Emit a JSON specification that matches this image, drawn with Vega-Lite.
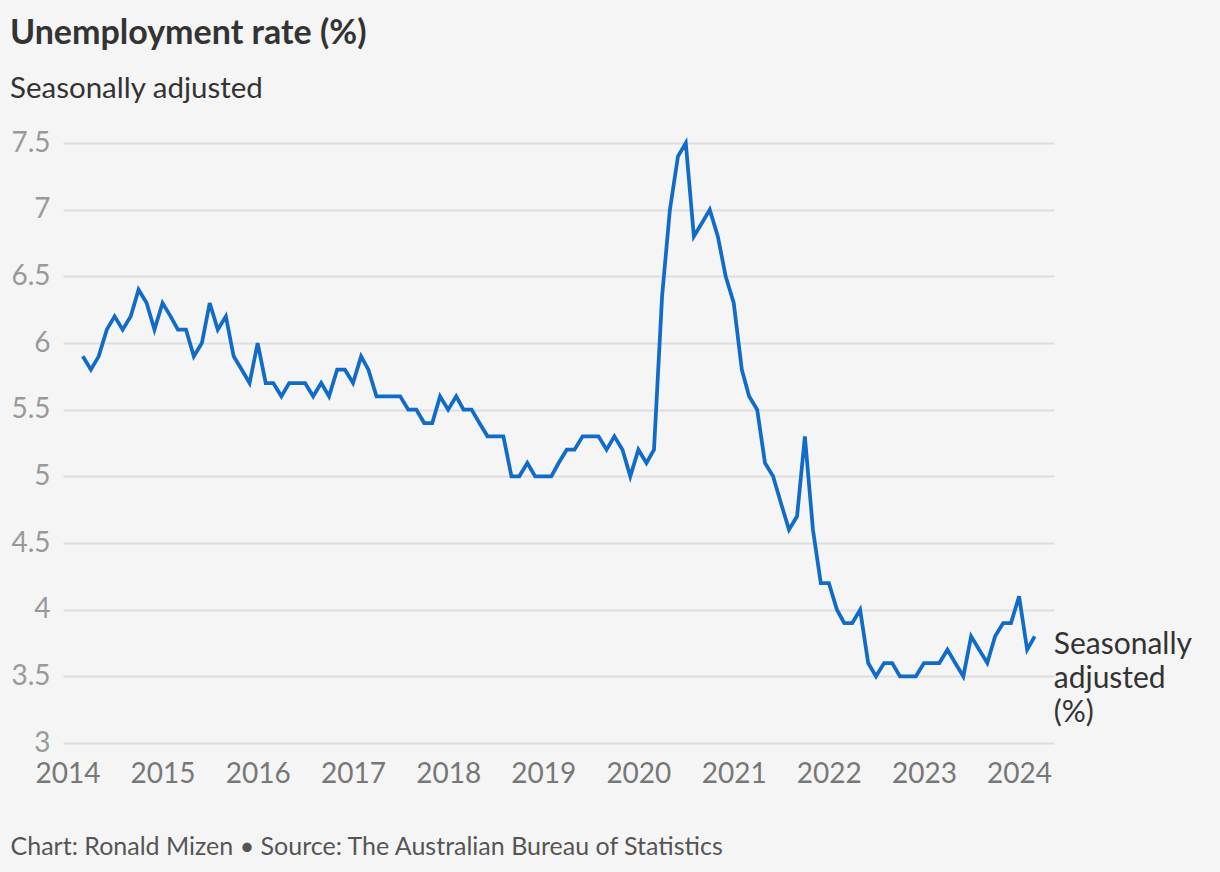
{
  "$schema": "https://vega.github.io/schema/vega-lite/v6.json",
  "width": 991,
  "height": 600,
  "autosize": {"type": "none"},
  "padding": {"left": 63, "top": 143, "right": 166, "bottom": 129},
  "background": "#f5f5f5",
  "config": {
    "view": {"stroke": null},
    "font": "Lato",
    "title": {"font": "Lato", "fontSize": 34, "fontWeight": "bold", "color": "#333333", "anchor": "start", "frame": "group", "dx": -53, "offset": 26, "subtitleFont": "Lato", "subtitleFontSize": 29.5, "subtitleColor": "#333333", "subtitlePadding": 24}
  },
  "title": {"text": "Unemployment rate (%)", "subtitle": "Seasonally adjusted"},
  "data": {"values": [
    {"date": "2014-03-01", "rate": 5.9}, {"date": "2014-04-01", "rate": 5.8}, {"date": "2014-05-01", "rate": 5.9}, {"date": "2014-06-01", "rate": 6.1}, {"date": "2014-07-01", "rate": 6.2}, {"date": "2014-08-01", "rate": 6.1}, {"date": "2014-09-01", "rate": 6.2}, {"date": "2014-10-01", "rate": 6.4}, {"date": "2014-11-01", "rate": 6.3}, {"date": "2014-12-01", "rate": 6.1},
    {"date": "2015-01-01", "rate": 6.3}, {"date": "2015-02-01", "rate": 6.2}, {"date": "2015-03-01", "rate": 6.1}, {"date": "2015-04-01", "rate": 6.1}, {"date": "2015-05-01", "rate": 5.9}, {"date": "2015-06-01", "rate": 6.0}, {"date": "2015-07-01", "rate": 6.3}, {"date": "2015-08-01", "rate": 6.1}, {"date": "2015-09-01", "rate": 6.2}, {"date": "2015-10-01", "rate": 5.9}, {"date": "2015-11-01", "rate": 5.8}, {"date": "2015-12-01", "rate": 5.7},
    {"date": "2016-01-01", "rate": 6.0}, {"date": "2016-02-01", "rate": 5.7}, {"date": "2016-03-01", "rate": 5.7}, {"date": "2016-04-01", "rate": 5.6}, {"date": "2016-05-01", "rate": 5.7}, {"date": "2016-06-01", "rate": 5.7}, {"date": "2016-07-01", "rate": 5.7}, {"date": "2016-08-01", "rate": 5.6}, {"date": "2016-09-01", "rate": 5.7}, {"date": "2016-10-01", "rate": 5.6}, {"date": "2016-11-01", "rate": 5.8}, {"date": "2016-12-01", "rate": 5.8},
    {"date": "2017-01-01", "rate": 5.7}, {"date": "2017-02-01", "rate": 5.9}, {"date": "2017-03-01", "rate": 5.8}, {"date": "2017-04-01", "rate": 5.6}, {"date": "2017-05-01", "rate": 5.6}, {"date": "2017-06-01", "rate": 5.6}, {"date": "2017-07-01", "rate": 5.6}, {"date": "2017-08-01", "rate": 5.5}, {"date": "2017-09-01", "rate": 5.5}, {"date": "2017-10-01", "rate": 5.4}, {"date": "2017-11-01", "rate": 5.4}, {"date": "2017-12-01", "rate": 5.6},
    {"date": "2018-01-01", "rate": 5.5}, {"date": "2018-02-01", "rate": 5.6}, {"date": "2018-03-01", "rate": 5.5}, {"date": "2018-04-01", "rate": 5.5}, {"date": "2018-05-01", "rate": 5.4}, {"date": "2018-06-01", "rate": 5.3}, {"date": "2018-07-01", "rate": 5.3}, {"date": "2018-08-01", "rate": 5.3}, {"date": "2018-09-01", "rate": 5.0}, {"date": "2018-10-01", "rate": 5.0}, {"date": "2018-11-01", "rate": 5.1}, {"date": "2018-12-01", "rate": 5.0},
    {"date": "2019-01-01", "rate": 5.0}, {"date": "2019-02-01", "rate": 5.0}, {"date": "2019-03-01", "rate": 5.1}, {"date": "2019-04-01", "rate": 5.2}, {"date": "2019-05-01", "rate": 5.2}, {"date": "2019-06-01", "rate": 5.3}, {"date": "2019-07-01", "rate": 5.3}, {"date": "2019-08-01", "rate": 5.3}, {"date": "2019-09-01", "rate": 5.2}, {"date": "2019-10-01", "rate": 5.3}, {"date": "2019-11-01", "rate": 5.2}, {"date": "2019-12-01", "rate": 5.0},
    {"date": "2020-01-01", "rate": 5.2}, {"date": "2020-02-01", "rate": 5.1}, {"date": "2020-03-01", "rate": 5.2}, {"date": "2020-04-01", "rate": 6.35}, {"date": "2020-05-01", "rate": 7.0}, {"date": "2020-06-01", "rate": 7.4}, {"date": "2020-07-01", "rate": 7.5}, {"date": "2020-08-01", "rate": 6.8}, {"date": "2020-09-01", "rate": 6.9}, {"date": "2020-10-01", "rate": 7.0}, {"date": "2020-11-01", "rate": 6.8}, {"date": "2020-12-01", "rate": 6.5},
    {"date": "2021-01-01", "rate": 6.3}, {"date": "2021-02-01", "rate": 5.8}, {"date": "2021-03-01", "rate": 5.6}, {"date": "2021-04-01", "rate": 5.5}, {"date": "2021-05-01", "rate": 5.1}, {"date": "2021-06-01", "rate": 5.0}, {"date": "2021-07-01", "rate": 4.8}, {"date": "2021-08-01", "rate": 4.6}, {"date": "2021-09-01", "rate": 4.7}, {"date": "2021-10-01", "rate": 5.3}, {"date": "2021-11-01", "rate": 4.6}, {"date": "2021-12-01", "rate": 4.2},
    {"date": "2022-01-01", "rate": 4.2}, {"date": "2022-02-01", "rate": 4.0}, {"date": "2022-03-01", "rate": 3.9}, {"date": "2022-04-01", "rate": 3.9}, {"date": "2022-05-01", "rate": 4.0}, {"date": "2022-06-01", "rate": 3.6}, {"date": "2022-07-01", "rate": 3.5}, {"date": "2022-08-01", "rate": 3.6}, {"date": "2022-09-01", "rate": 3.6}, {"date": "2022-10-01", "rate": 3.5}, {"date": "2022-11-01", "rate": 3.5}, {"date": "2022-12-01", "rate": 3.5},
    {"date": "2023-01-01", "rate": 3.6}, {"date": "2023-02-01", "rate": 3.6}, {"date": "2023-03-01", "rate": 3.6}, {"date": "2023-04-01", "rate": 3.7}, {"date": "2023-05-01", "rate": 3.6}, {"date": "2023-06-01", "rate": 3.5}, {"date": "2023-07-01", "rate": 3.8}, {"date": "2023-08-01", "rate": 3.7}, {"date": "2023-09-01", "rate": 3.6}, {"date": "2023-10-01", "rate": 3.8}, {"date": "2023-11-01", "rate": 3.9}, {"date": "2023-12-01", "rate": 3.9},
    {"date": "2024-01-01", "rate": 4.1}, {"date": "2024-02-01", "rate": 3.7}, {"date": "2024-03-01", "rate": 3.8}
  ]},
  "encoding": {
    "x": {
      "field": "date", "type": "temporal",
      "scale": {"type": "utc", "domain": [{"year": 2013, "month": 12, "date": 15, "utc": true}, {"year": 2024, "month": 5, "date": 14, "utc": true}]},
      "axis": {
        "format": "%Y", "formatType": "utc", "tickCount": {"interval": "year", "step": 1},
        "grid": false, "domain": false, "ticks": false, "tickSize": 0,
        "labelFont": "Lato", "labelFontSize": 28, "labelColor": "#777777", "labelPadding": 17, "labelFlush": false, "labelOverlap": false,
        "title": "Chart: Ronald Mizen • Source: The Australian Bureau of Statistics",
        "titleX": -53, "titleY": 111, "titleAlign": "left", "titleBaseline": "alphabetic",
        "titleFont": "Lato", "titleFontSize": 25, "titleFontWeight": "normal", "titleColor": "#555555"
      }
    },
    "y": {
      "field": "rate", "type": "quantitative",
      "scale": {"domain": [3, 7.5], "zero": false, "nice": false},
      "axis": {
        "values": [3, 3.5, 4, 4.5, 5, 5.5, 6, 6.5, 7, 7.5], "format": "~g",
        "grid": true, "gridColor": "#dedede", "gridWidth": 2,
        "domain": false, "ticks": false, "tickSize": 0,
        "labelFont": "Lato", "labelFontSize": 28, "labelColor": "#999999", "labelPadding": 13,
        "title": null
      }
    }
  },
  "layer": [
    {"mark": {"type": "line", "color": "#106cc8", "strokeWidth": 3.75, "strokeJoin": "miter", "strokeCap": "butt"}},
    {
      "transform": [{"filter": "utcyear(datum.date) == 2024 && utcmonth(datum.date) == 2"}],
      "mark": {"type": "text", "text": ["Seasonally", "adjusted", "(%)"], "align": "left", "baseline": "alphabetic", "dx": 19, "dy": 18, "font": "Lato", "fontSize": 30, "lineHeight": 34, "color": "#333333"}
    }
  ]
}
